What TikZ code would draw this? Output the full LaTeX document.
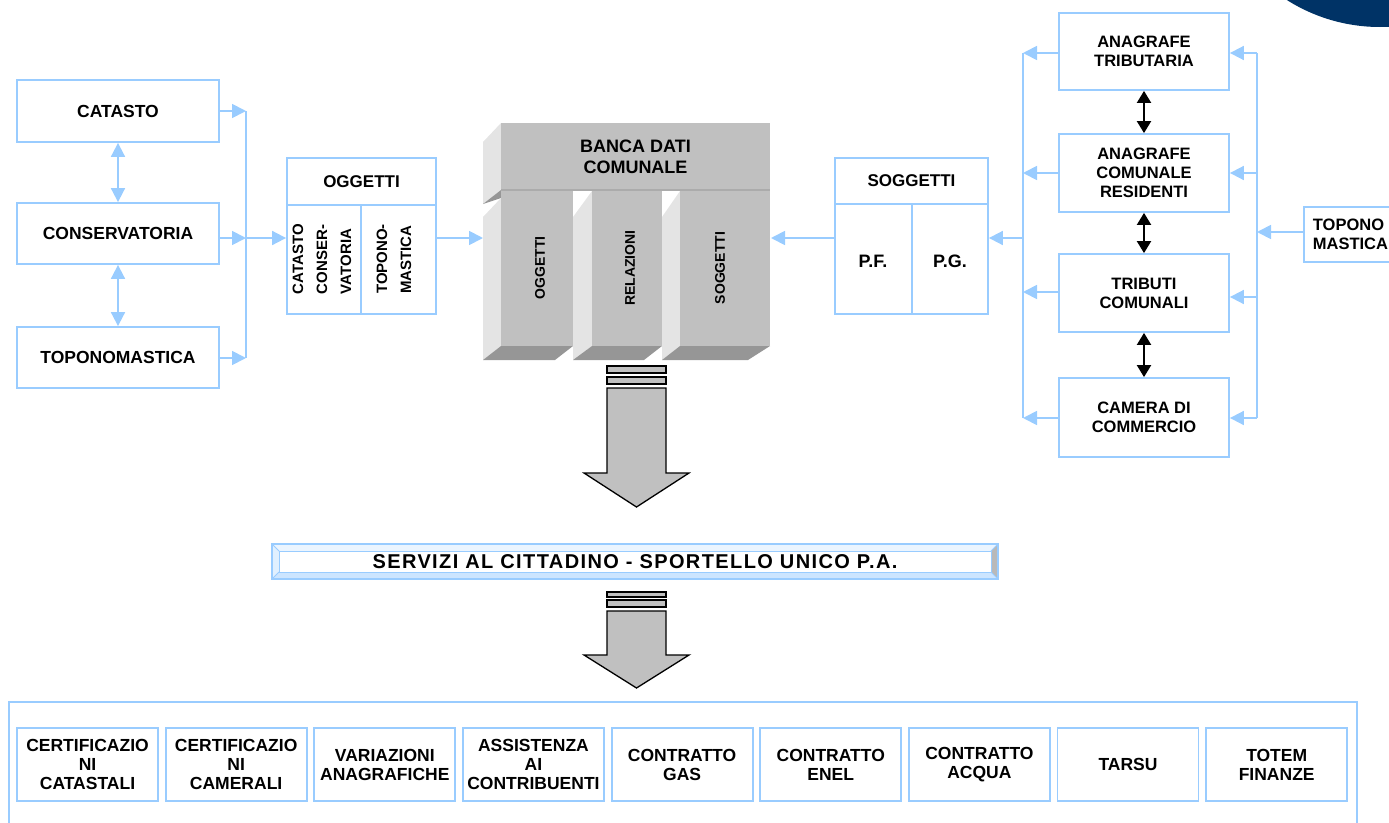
\documentclass[tikz,border=0pt]{standalone}
\usepackage{fontspec}
\setmainfont{Liberation Sans}
\usetikzlibrary{arrows.meta}
\definecolor{lblue}{RGB}{153,204,255}
\definecolor{navy}{RGB}{0,51,102}
\definecolor{facefront}{RGB}{192,192,192}
\definecolor{faceside}{RGB}{228,228,228}
\definecolor{facebottom}{RGB}{150,150,150}
\definecolor{bigarrow}{RGB}{192,192,192}
\begin{document}
\begin{tikzpicture}[x=1pt,y=-1pt,
  txt/.style={font=\fontsize{17}{19}\selectfont\bfseries, align=center, inner sep=0pt},
  box/.style={draw=lblue, line width=1.8pt, fill=white, inner sep=0pt,
    font=\fontsize{16.5}{19}\selectfont\bfseries, align=center},
  leftbox/.style={box, font=\fontsize{17.5}{19}\selectfont\bfseries},
  smallbox/.style={box, font=\fontsize{17.5}{19}\selectfont\bfseries},
  bline/.style={draw=lblue, line width=1.8pt},
  arr/.style={draw=lblue, line width=1.8pt, -{Triangle[length=14pt,width=14pt]}},
  biarr/.style={draw=lblue, line width=1.8pt,
    {Triangle[length=14pt,width=14pt]}-{Triangle[length=14pt,width=14pt]}},
  blackarr/.style={draw=black, line width=2pt,
    {Triangle[length=12pt,width=14pt]}-{Triangle[length=12pt,width=14pt]}},
  vtxt/.style={rotate=90, inner sep=0pt, font=\fontsize{14}{24}\selectfont\bfseries, align=left},
  fat/.style={fill=bigarrow, draw=black, line width=1.3pt, line join=miter}
]
\useasboundingbox (0,0) rectangle (1389,822);
\clip (0,0) rectangle (1389,822);

% corner ornament
\fill[navy] (1380,-147) circle (174);

% ---------------- left sources ----------------
\node[leftbox, minimum width=202pt, minimum height=62pt] (catasto) at (118,111) {CATASTO};
\node[leftbox, minimum width=202pt, minimum height=61pt] (conserv) at (118,233.5) {CONSERVATORIA};
\node[leftbox, minimum width=202pt, minimum height=61pt] (topleft) at (118,357.5) {TOPONOMASTICA};

\draw[biarr] (catasto.south) -- (conserv.north);
\draw[biarr] (conserv.south) -- (topleft.north);

\coordinate (lb1) at (246,111);
\coordinate (lb2) at (246,238);
\coordinate (lb3) at (246,358);
\draw[bline] (lb1) -- (lb3);
\draw[arr] (catasto.east |- lb1) -- (lb1);
\draw[arr] (conserv.east |- lb2) -- (lb2);
\draw[arr] (topleft.east |- lb3) -- (lb3);

% ---------------- OGGETTI table ----------------
\node[box, minimum width=149pt, minimum height=156pt] (ogg) at (361.5,236) {};
\draw[bline] (ogg.west |- 0,205) -- (ogg.east |- 0,205);
\draw[bline] (361,205) -- (ogg.south -| 361,0);
\node[txt] (oggt) at (361.5,182) {OGGETTI};
\node[vtxt, font=\fontsize{15}{24}\selectfont\bfseries] (ogga) at (322,259) {CATASTO\\CONSER-\\VATORIA};
\node[vtxt, font=\fontsize{15}{24}\selectfont\bfseries] (oggb) at (394,259) {TOPONO-\\MASTICA};
\draw[arr] (lb2) -- (ogg.west |- lb2);

% ---------------- BANCA DATI COMUNALE ----------------
% header block
\fill[faceside] (501,123) -- (483,142) -- (483,204) -- (501,190) -- cycle;
\fill[facebottom] (483,204) -- (501,190) -- (501,198) -- cycle;
\fill[facefront] (501,123) rectangle (770,190);
% columns: side faces, bottom faces, fronts
\fill[faceside] (483,217) -- (501,198) -- (501,346) -- (483,360) -- cycle;
\fill[facebottom] (501,346) -- (573,346) -- (555,360) -- (483,360) -- cycle;
\fill[facefront] (501,190) rectangle (573,346);
\fill[faceside] (573,217) -- (592,191) -- (592,346) -- (573,360) -- cycle;
\fill[facebottom] (592,346) -- (662,346) -- (644,360) -- (573,360) -- cycle;
\fill[facefront] (592,190) rectangle (662,346);
\fill[faceside] (662,217) -- (680,191) -- (680,346) -- (662,360) -- cycle;
\fill[facebottom] (680,346) -- (770,346) -- (748,360) -- (662,360) -- cycle;
\fill[facefront] (680,190) rectangle (770,346);
\draw[draw=facebottom!80, line width=1.2pt] (501,190) -- (770,190);
\node[txt, font=\fontsize{18}{21}\selectfont\bfseries] (banca) at (635.5,157) {BANCA DATI\\COMUNALE};
\node[vtxt] (cologg) at (540,268) {OGGETTI};
\node[vtxt] (colrel) at (630,268) {RELAZIONI};
\node[vtxt] (colsog) at (720,268) {SOGGETTI};
\coordinate (bancaw) at (483,238);
\coordinate (bancae) at (771,238);
\draw[arr] (ogg.east |- bancaw) -- (bancaw);

% ---------------- SOGGETTI table ----------------
\node[box, minimum width=153pt, minimum height=156pt] (sogg) at (911.5,236) {};
\draw[bline] (sogg.west |- 0,204) -- (sogg.east |- 0,204);
\draw[bline] (912,204) -- (sogg.south -| 912,0);
\node[txt] (soggt) at (911.5,181) {SOGGETTI};
\node[txt, font=\fontsize{18}{20}\selectfont\bfseries] (pf) at (873,261) {P.F.};
\node[txt, font=\fontsize{18}{20}\selectfont\bfseries] (pg) at (950,261) {P.G.};
\draw[arr] (sogg.west |- bancae) -- (bancae);

% ---------------- right sources ----------------
\node[box, minimum width=170pt, minimum height=77pt] (anatrib) at (1144,51.5) {ANAGRAFE\\TRIBUTARIA};
\node[box, minimum width=170pt, minimum height=78pt] (anacom) at (1144,173) {ANAGRAFE\\COMUNALE\\RESIDENTI};
\node[box, minimum width=170pt, minimum height=78pt] (tributi) at (1144,293) {TRIBUTI\\COMUNALI};
\node[box, minimum width=170pt, minimum height=79pt] (camera) at (1144,417.5) {CAMERA DI\\COMMERCIO};
\node[box, minimum width=110pt, minimum height=55pt, align=left, anchor=west,
      text width=104pt] (topright) at (1303,234.5) {\hspace*{6pt}TOPONO\\\hspace*{6pt}MASTICA};

\draw[blackarr] (anatrib.south) -- (anacom.north);
\draw[blackarr] (anacom.south) -- (tributi.north);
\draw[blackarr] (tributi.south) -- (camera.north);

\coordinate (lt1) at (1023,53);
\coordinate (lt2) at (1023,173);
\coordinate (lt3) at (1023,292);
\coordinate (lt4) at (1023,418);
\coordinate (ltm) at (1023,238);
\coordinate (rt1) at (1257,53);
\coordinate (rt2) at (1257,173);
\coordinate (rt3) at (1257,297);
\coordinate (rt4) at (1257,418);
\coordinate (rtm) at (1257,232);
\draw[bline] (lt1) -- (lt4);
\draw[bline] (rt1) -- (rt4);
\draw[arr] (anatrib.west |- lt1) -- (lt1);
\draw[arr] (anacom.west |- lt2) -- (lt2);
\draw[arr] (tributi.west |- lt3) -- (lt3);
\draw[arr] (camera.west |- lt4) -- (lt4);
\draw[arr] (rt1) -- (anatrib.east |- rt1);
\draw[arr] (rt2) -- (anacom.east |- rt2);
\draw[arr] (rt3) -- (tributi.east |- rt3);
\draw[arr] (rt4) -- (camera.east |- rt4);
\draw[arr] (topright.west |- rtm) -- (rtm);
\draw[arr] (ltm) -- (sogg.east |- ltm);

% ---------------- block arrows ----------------
\filldraw[fat] (607,366) rectangle (666,373);
\filldraw[fat] (607,377) rectangle (666,384);
\filldraw[fat] (607,388) -- (666,388) -- (666,473) -- (689,473) -- (636.5,507)
  -- (584,473) -- (607,473) -- cycle;

\filldraw[fat] (607,592) rectangle (666,597);
\filldraw[fat] (607,600) rectangle (666,607);
\filldraw[fat] (607,611) -- (666,611) -- (666,655) -- (689,655) -- (636.5,688)
  -- (584,655) -- (607,655) -- cycle;

% ---------------- SERVIZI bar ----------------
\fill[white] (272,544) rectangle (998,579);
\fill[gray!55] (998,544) -- (998,579) -- (991,572) -- (991,551) -- cycle;
\fill[lblue!20] (272,544) -- (998,544) -- (991,551) -- (279,551) -- cycle;
\fill[lblue!30] (272,544) -- (279,551) -- (279,572) -- (272,579) -- cycle;
\fill[lblue!50] (272,579) -- (279,572) -- (991,572) -- (998,579) -- cycle;
\draw[lblue, line width=1.4pt] (272,544) rectangle (998,579);
\draw[lblue, line width=1pt] (279,551) rectangle (991,572);
\draw[lblue, line width=0.8pt] (272,544) -- (279,551) (998,544) -- (991,551)
  (272,579) -- (279,572) (998,579) -- (991,572);
\node[txt, font=\fontsize{20}{22}\selectfont\bfseries\addfontfeature{LetterSpace=7}] (servizi) at (635,561.5)
  {SERVIZI AL CITTADINO - SPORTELLO UNICO P.A.};

% ---------------- services row ----------------
\draw[bline] (9,830) -- (9,702) -- (1357,702) -- (1357,830);
\foreach \i/\t in {0/{CERTIFICAZIO\\NI\\CATASTALI},
                   1/{CERTIFICAZIO\\NI\\CAMERALI},
                   2/{VARIAZIONI\\ANAGRAFICHE},
                   3/{ASSISTENZA\\AI\\CONTRIBUENTI},
                   4/{CONTRATTO\\GAS},
                   5/{CONTRATTO\\ENEL},
                   6/{CONTRATTO\\ACQUA},
                   7/{TARSU},
                   8/{TOTEM\\FINANZE}} {
  \node[smallbox, minimum width=141pt, minimum height=73pt] (serv\i)
    at ({87.5+148.65*\i},764.5) {\t};
}
\end{tikzpicture}
\end{document}
